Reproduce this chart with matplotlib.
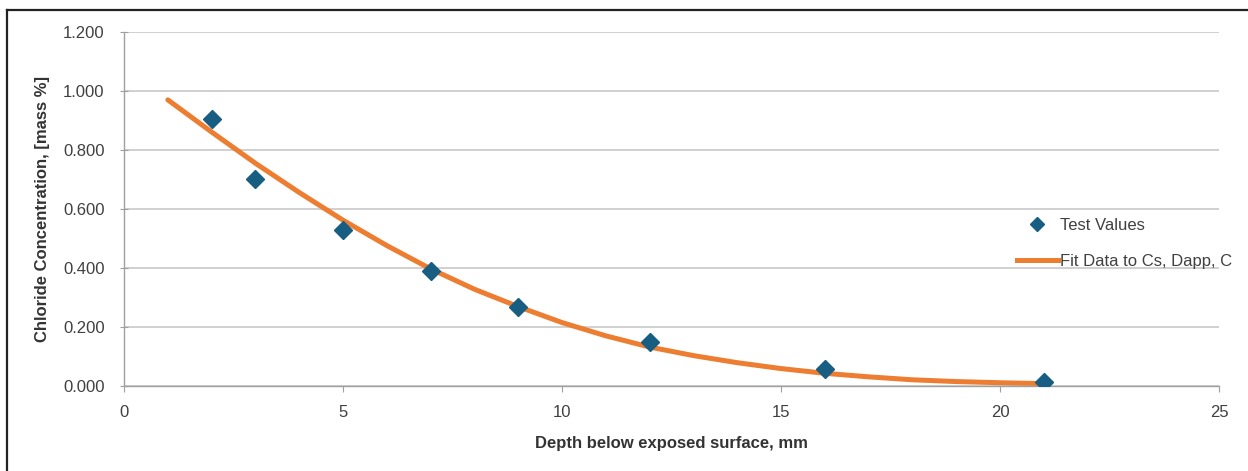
import matplotlib
matplotlib.use("Agg")
import matplotlib.pyplot as plt
from matplotlib.lines import Line2D

plt.rcParams['font.family'] = ['Liberation Sans', 'DejaVu Sans']

# Test data
depth = [2, 3, 5, 7, 9, 12, 16, 21]
chloride = [0.905, 0.703, 0.530, 0.390, 0.268, 0.148, 0.058, 0.012]

# Fit curve values
fit_depth = [1, 2, 3, 4, 5, 6, 7, 8, 9, 10, 11, 12, 13, 14, 15, 16, 17, 18, 19, 20, 21]
fit_conc = [0.970, 0.861, 0.755, 0.656, 0.562, 0.476, 0.397, 0.328, 0.269, 0.215,
            0.170, 0.132, 0.103, 0.079, 0.059, 0.043, 0.031, 0.021, 0.015, 0.011, 0.008]

yticks = [0.0, 0.2, 0.4, 0.6, 0.8, 1.0, 1.2]
xticks = [0, 5, 10, 15, 20, 25]

fig = plt.figure(figsize=(12.48, 4.71), dpi=100)
ax = fig.add_axes([0.0994, 0.1805, 0.8774, 0.7515])

ax.plot(fit_depth, fit_conc, color='#ED7D31', lw=3.6, solid_capstyle='round', zorder=2,
        label='Fit Data to Cs, Dapp, C')
ax.plot(depth, chloride, ls='none', marker='D', ms=9.5, color='#175E82', zorder=3,
        label='Test Values')

ax.set_xlim(0, 25)
ax.set_ylim(0, 1.2)
ax.set_xticks(xticks)
ax.set_yticks(yticks)
ax.set_yticklabels([f"{v:.3f}" for v in yticks])
ax.grid(axis='y', color='#C8C8C8', lw=1.2)
ax.set_axisbelow(True)
for s in ['top', 'right']:
    ax.spines[s].set_visible(False)
for s in ['left', 'bottom']:
    ax.spines[s].set_color('#A0A0A0')
    ax.spines[s].set_linewidth(1.0)
ax.tick_params(axis='y', direction='inout', length=6, color='#A0A0A0', labelsize=12,
               labelcolor='#404040', pad=11)
ax.tick_params(axis='x', direction='out', length=4, color='#A0A0A0', labelsize=12,
               labelcolor='#404040', pad=10)

ax.set_xlabel('Depth below exposed surface, mm', fontsize=12, fontweight='bold',
              color='#333333', labelpad=11)
ax.set_ylabel('Chloride Concentration, [mass %]', fontsize=12, fontweight='bold',
              color='#333333', labelpad=9)

handles = [Line2D([], [], ls='none', marker='D', ms=7.5, color='#175E82'),
           Line2D([], [], color='#ED7D31', lw=3.6)]
leg = ax.legend(handles, ['Test Values', 'Fit Data to Cs, Dapp, C'],
                loc='upper left', bbox_to_anchor=(0.8155, 0.476), frameon=False,
                fontsize=12, labelspacing=1.3, handlelength=2.45, handletextpad=0.1,
                borderaxespad=0, borderpad=0)
for t in leg.get_texts():
    t.set_color('#404040')

# outer frame lines (top and left)
fig.add_artist(Line2D([7/1248, 1], [1 - 10/471, 1 - 10/471], color='#222222', lw=1.6,
                      transform=fig.transFigure))
fig.add_artist(Line2D([7/1248, 7/1248], [0, 1 - 10/471], color='#222222', lw=1.6,
                      transform=fig.transFigure))

fig.savefig('out.png', dpi=100)
